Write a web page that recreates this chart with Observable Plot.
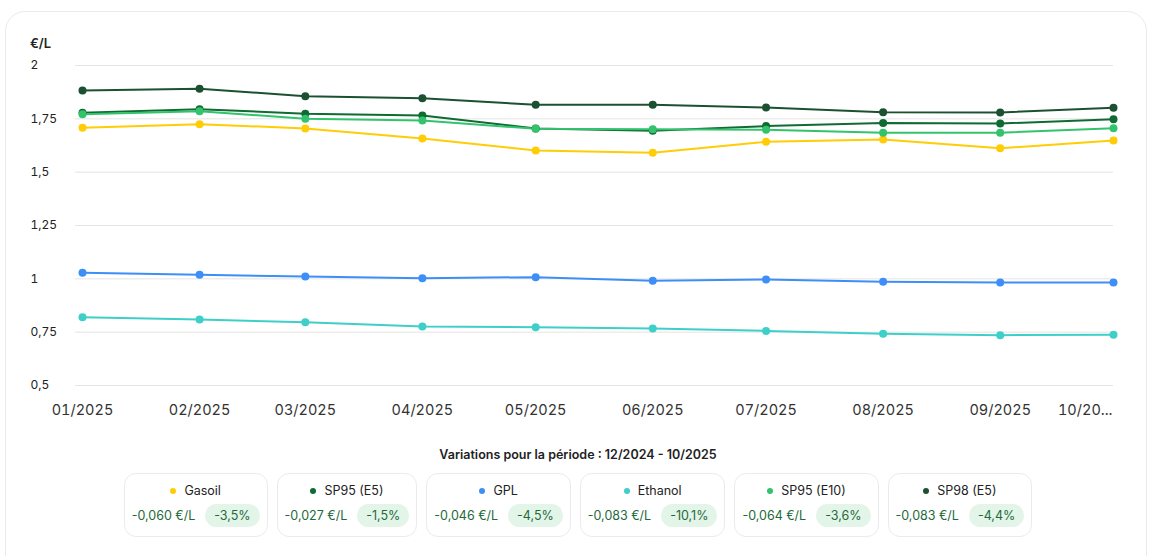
<!DOCTYPE html>
<html>
<head>
<meta charset="utf-8">
<script src="https://cdn.jsdelivr.net/npm/d3@7"></script>
<script src="https://cdn.jsdelivr.net/npm/@observablehq/plot@0.6"></script>
<style>
  html, body { margin: 0; padding: 0; background: #fff; font-family: Inter, "Noto Sans", sans-serif; }
  #wrap { position: relative; width: 1156px; height: 556px; overflow: hidden; }
  #card { position: absolute; left: 5px; top: 11px; width: 1142px; height: 600px; border: 1px solid #ebebeb; border-radius: 20px; box-sizing: border-box; }
  #chart { position: absolute; left: 0; top: 0; }
  #unit { position: absolute; left: 30px; top: 35px; font-size: 13px; font-weight: 600; color: #222; }
  #legtitle { position: absolute; left: 0; width: 1156px; top: 447px; text-align: center; font-size: 12.5px; font-weight: 600; color: #222; }
  #legend { position: absolute; left: 0; width: 1156px; top: 473px; display: flex; justify-content: center; gap: 9px; }
  .lc { border: 1px solid #ebebeb; border-radius: 12px; height: 64px; box-sizing: border-box; padding: 0 7px; display: flex; flex-direction: column; align-items: center; justify-content: center; gap: 6px; }
  .r1 { display: flex; align-items: center; gap: 8px; font-size: 12.5px; color: #222; }
  .dot { width: 6px; height: 6px; border-radius: 50%; }
  .r2 { display: flex; align-items: center; gap: 10px; font-size: 12.5px; color: #1e6a3a; }
  .pill { background: #e3f5e9; border-radius: 13px; padding: 4px 9px; }
</style>
</head>
<body>
<div id="wrap">
  <div id="card"></div>
  <div id="chart"></div>
  <div id="unit">€/L</div>
  <div id="legtitle"></div>
  <div id="legend"></div>
</div>
<script>
const months = ["2025-01-01","2025-02-01","2025-03-01","2025-04-01","2025-05-01","2025-06-01","2025-07-01","2025-08-01","2025-09-01","2025-10-01"];
const xTickLabels = ["01/2025","02/2025","03/2025","04/2025","05/2025","06/2025","07/2025","08/2025","09/2025","10/20..."];
const yTicks = [0.5, 0.75, 1, 1.25, 1.5, 1.75, 2];
const yTickLabels = ["0,5","0,75","1","1,25","1,5","1,75","2"];

const seriesNames = ["Gasoil","SP95 (E5)","GPL","Ethanol","SP95 (E10)","SP98 (E5)"];
const seriesColors = ["#ffcd05","#0e6b31","#3e8ef7","#3ecfc9","#33c36c","#1b5131"];
const gasoil = [1.708, 1.725, 1.705, 1.658, 1.602, 1.591, 1.642, 1.653, 1.612, 1.648];
const sp95e5 = [1.778, 1.795, 1.774, 1.766, 1.705, 1.694, 1.716, 1.731, 1.728, 1.748];
const gpl = [1.028, 1.019, 1.011, 1.003, 1.008, 0.991, 0.997, 0.986, 0.983, 0.983];
const ethanol = [0.820, 0.809, 0.797, 0.777, 0.773, 0.767, 0.756, 0.742, 0.736, 0.738];
const sp95e10 = [1.772, 1.786, 1.750, 1.742, 1.703, 1.701, 1.699, 1.685, 1.685, 1.706];
const sp98 = [1.883, 1.891, 1.856, 1.847, 1.816, 1.816, 1.803, 1.781, 1.780, 1.802];

const legendTitle = "Variations pour la période : 12/2024 - 10/2025";
const variationsEur = ["-0,060 €/L","-0,027 €/L","-0,046 €/L","-0,083 €/L","-0,064 €/L","-0,083 €/L"];
const variationsPct = ["-3,5%","-1,5%","-4,5%","-10,1%","-3,6%","-4,4%"];

const allValues = [gasoil, sp95e5, gpl, ethanol, sp95e10, sp98];
const data = [];
seriesNames.forEach((name, i) => {
  months.forEach((m, j) => data.push({series: name, date: new Date(m + "T00:00:00Z"), value: allValues[i][j]}));
});
const monthDates = months.map(m => new Date(m + "T00:00:00Z"));
const labelOf = new Map(monthDates.map((d, i) => [+d, xTickLabels[i]]));
const yLabelOf = new Map(yTicks.map((v, i) => [v, yTickLabels[i]]));
const lastDate = monthDates[monthDates.length - 1];

const chart = Plot.plot({
  width: 1156,
  height: 430,
  marginLeft: 75,
  marginRight: 43,
  marginTop: 65,
  marginBottom: 45,
  style: {fontFamily: "Inter, sans-serif", background: "transparent", overflow: "visible"},
  x: {type: "utc", domain: [monthDates[0], lastDate], insetLeft: 7},
  y: {domain: [0.5, 2]},
  color: {domain: seriesNames, range: seriesColors},
  marks: [
    Plot.gridY(yTicks, {stroke: "#e4e4e4", strokeOpacity: 1, strokeWidth: 1}),
    Plot.axisY(yTicks, {tickSize: 0, tickPadding: 45, textAnchor: "start", tickFormat: d => yLabelOf.get(d), fontSize: 12, fill: "#222", label: null}),
    Plot.axisX(monthDates.slice(0, -1), {tickSize: 0, tickPadding: 19, tickFormat: d => labelOf.get(+d), fontSize: 14.5, fill: "#333", label: null}),
    Plot.axisX([lastDate], {tickSize: 0, tickPadding: 19, textAnchor: "end", dx: -1, tickFormat: d => labelOf.get(+d), fontSize: 14.5, fill: "#333", label: null}),
    Plot.line(data, {x: "date", y: "value", z: "series", stroke: "series", strokeWidth: 2}),
    Plot.dot(data, {x: "date", y: "value", fill: "series", r: 4})
  ]
});
document.getElementById("chart").appendChild(chart);

document.getElementById("legtitle").textContent = legendTitle;
const leg = document.getElementById("legend");
seriesNames.forEach((name, i) => {
  const c = document.createElement("div");
  c.className = "lc";
  c.innerHTML = `<div class="r1"><span class="dot" style="background:${seriesColors[i]}"></span><span></span></div>
    <div class="r2"><span></span><span class="pill"></span></div>`;
  c.querySelector(".r1 span:last-child").textContent = name;
  c.querySelector(".r2 span:first-child").textContent = variationsEur[i];
  c.querySelector(".pill").textContent = variationsPct[i];
  leg.appendChild(c);
});
</script>
</body>
</html>
